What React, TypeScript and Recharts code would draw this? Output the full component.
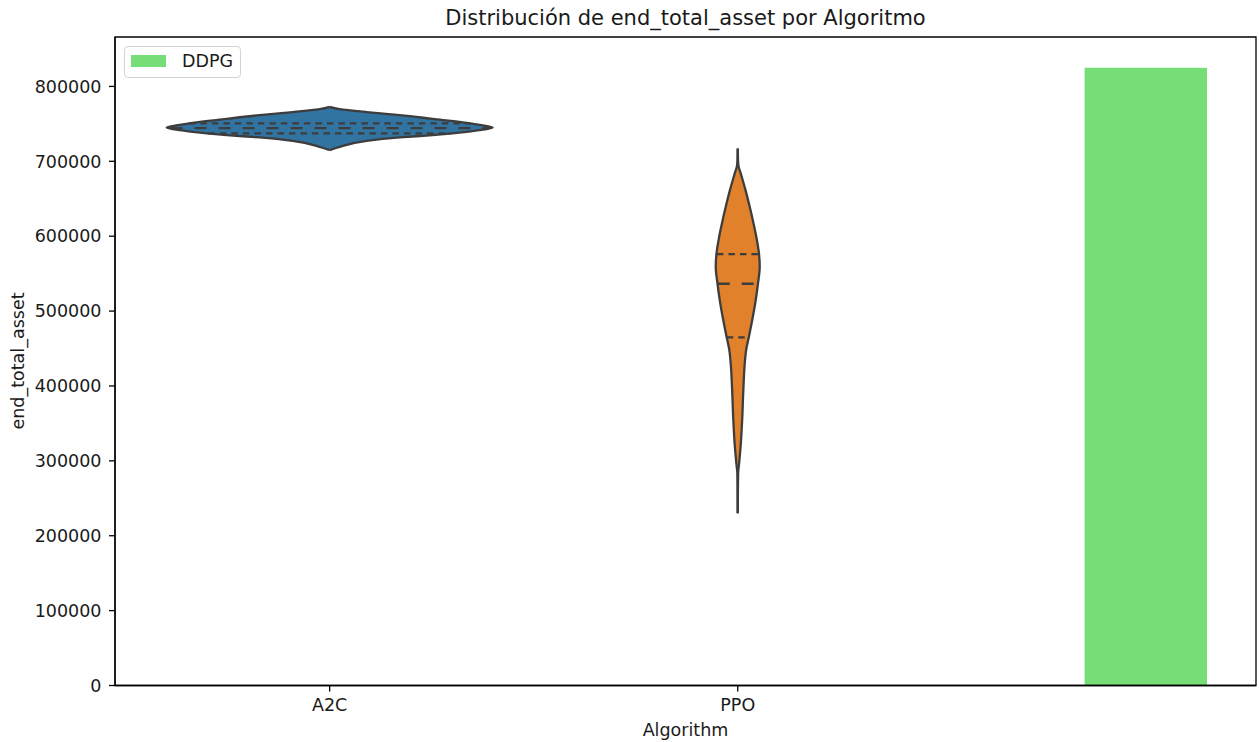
import { Area, ComposedChart, Line, ReferenceArea, XAxis, YAxis } from "recharts";

const categories = ["A2C", "PPO"];
const yTicks = [0, 100000, 200000, 300000, 400000, 500000, 600000, 700000, 800000];

// violin outlines, top to bottom: value and half width (in category units)
const a2cValues = [
  772800, 769700, 765700, 761700, 756700, 751400, 748700, 745300, 741600, 739400,
  735000, 731900, 727400, 719400, 715000,
];
const a2cHalfWidths = [
  0, 0.0245, 0.0907, 0.1716, 0.2525, 0.3358, 0.3676, 0.3995, 0.3676, 0.3358, 0.2525,
  0.1716, 0.0907, 0.0245, 0,
];
const ppoValues = [
  717200, 694900, 683800, 661500, 639200, 617100, 594800, 577000, 559100, 537000,
  514700, 488000, 465700, 447900, 430200, 407900, 385600, 363400, 341100, 318800,
  296700, 283300, 229900,
];
const ppoHalfWidths = [
  0, 0.0015, 0.0074, 0.0191, 0.0294, 0.0387, 0.047, 0.052, 0.0539, 0.0497, 0.0441,
  0.0355, 0.0274, 0.0206, 0.0172, 0.0148, 0.013, 0.0116, 0.0096, 0.007, 0.0034, 0.001, 0,
];

// Q3, median, Q1
const a2cQuartiles = [750600, 744300, 737200];
const a2cQuartileHalfWidths = [0.345, 0.39, 0.297];
const ppoQuartiles = [576100, 536500, 465000];
const ppoQuartileHalfWidths = [0.051, 0.049, 0.027];

const ddpgValue = 825000;
const ddpgPosition = 2;
const ddpgHalfWidth = 0.15;

const xMin = -0.526;
const xMax = 2.27;
const yMax = 866000;

const FONT = "'DejaVu Sans', sans-serif";
const EDGE = "#3d3d3d";

const violin = (pos: number, values: number[], hw: number[]) =>
  values.map((v, i) => ({ v, r: [pos - hw[i], pos + hw[i]] }));

const quartLines = (pos: number, qs: number[], hw: number[]) =>
  qs.map((q, i) => ({
    median: i === 1,
    data: [
      { v: q, x: pos - hw[i] },
      { v: q, x: pos + hw[i] },
    ],
  }));

const a2cData = violin(0, a2cValues, a2cHalfWidths);
const ppoData = violin(1, ppoValues, ppoHalfWidths);
const ddpgData = [
  { v: ddpgValue, r: [ddpgPosition - ddpgHalfWidth, ddpgPosition + ddpgHalfWidth] },
  { v: 0, r: [ddpgPosition - ddpgHalfWidth, ddpgPosition + ddpgHalfWidth] },
];
const lines = [
  ...quartLines(0, a2cQuartiles, a2cQuartileHalfWidths),
  ...quartLines(1, ppoQuartiles, ppoQuartileHalfWidths),
];

export default function App() {
  const tick = { fontFamily: FONT, fontSize: 17.5, fill: "#1a1a1a" };
  return (
    <div
      style={{
        position: "absolute",
        left: 0,
        top: 0,
        width: 1259,
        height: 742,
        background: "#fff",
        fontFamily: FONT,
      }}
    >
      <ComposedChart
        width={1259}
        height={742}
        layout="vertical"
        margin={{ top: 37, right: 3, bottom: 0, left: 0 }}
      >
        <XAxis
          type="number"
          domain={[xMin, xMax]}
          allowDataOverflow
          ticks={[0, 1]}
          tickFormatter={(i: number) => categories[i] ?? ""}
          height={56.5}
          tickSize={6}
          tickMargin={7}
          tick={tick}
          stroke="#000"
          strokeWidth={1.3}
        />
        <YAxis
          type="number"
          dataKey="v"
          reversed
          domain={[0, yMax]}
          allowDataOverflow
          ticks={yTicks}
          width={115}
          tickSize={6}
          tickMargin={7.5}
          tick={tick}
          stroke="#000"
          strokeWidth={1.3}
        />
        <Area
          data={ddpgData}
          dataKey="r"
          type="linear"
          stroke="none"
          fill="#77dd77"
          fillOpacity={1}
          dot={false}
          activeDot={false}
          isAnimationActive={false}
        />
        <Area
          data={a2cData}
          dataKey="r"
          type="monotone"
          stroke={EDGE}
          strokeWidth={2.3}
          fill="#3274a1"
          fillOpacity={1}
          dot={false}
          activeDot={false}
          isAnimationActive={false}
        />
        <Area
          data={ppoData}
          dataKey="r"
          type="monotone"
          stroke={EDGE}
          strokeWidth={2.3}
          fill="#e1812c"
          fillOpacity={1}
          dot={false}
          activeDot={false}
          isAnimationActive={false}
        />
        {lines.map((l, i) => (
          <Line
            key={i}
            data={l.data}
            dataKey="x"
            type="linear"
            stroke={EDGE}
            strokeWidth={2.3}
            strokeDasharray={l.median ? "12 12" : "6.5 5"}
            dot={false}
            activeDot={false}
            isAnimationActive={false}
          />
        ))}
        <ReferenceArea
          x1={xMin}
          x2={xMax}
          y1={0}
          y2={yMax}
          fill="none"
          stroke="#000"
          strokeWidth={1.3}
          ifOverflow="visible"
        />
      </ComposedChart>

      <div
        style={{
          position: "absolute",
          left: 115,
          width: 1141,
          top: 6,
          textAlign: "center",
          fontSize: 21,
          lineHeight: "24px",
          color: "#1a1a1a",
        }}
      >
        Distribución de end_total_asset por Algoritmo
      </div>
      <div
        style={{
          position: "absolute",
          left: 115,
          width: 1141,
          top: 720,
          textAlign: "center",
          fontSize: 17.5,
          lineHeight: "20px",
          color: "#1a1a1a",
        }}
      >
        Algorithm
      </div>
      <div
        style={{
          position: "absolute",
          left: 18 - 150,
          top: 361 - 10,
          width: 300,
          height: 20,
          textAlign: "center",
          fontSize: 17.5,
          lineHeight: "20px",
          color: "#1a1a1a",
          transform: "rotate(-90deg)",
        }}
      >
        end_total_asset
      </div>

      <div
        style={{
          position: "absolute",
          left: 124,
          top: 46,
          width: 115,
          height: 30,
          border: "1px solid #d4d4d4",
          borderRadius: 4,
          background: "rgba(255,255,255,0.8)",
        }}
      >
        <div
          style={{
            position: "absolute",
            left: 6,
            top: 8,
            width: 35,
            height: 12,
            background: "#77dd77",
          }}
        />
        <div
          style={{
            position: "absolute",
            left: 57,
            top: 4,
            fontSize: 17.5,
            lineHeight: "20px",
            color: "#1a1a1a",
          }}
        >
          DDPG
        </div>
      </div>
    </div>
  );
}
